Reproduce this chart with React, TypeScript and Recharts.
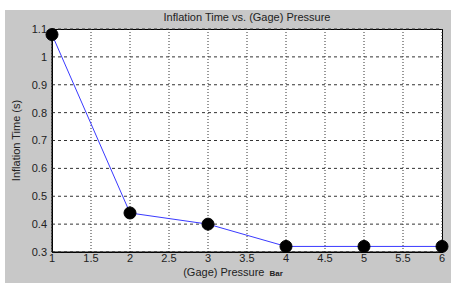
import { CartesianGrid, Line, LineChart, XAxis, YAxis } from "recharts";

const pressure = [1, 2, 3, 4, 5, 6];
const inflationTime = [1.08, 0.44, 0.4, 0.32, 0.32, 0.32];
const xTicks = [1, 1.5, 2, 2.5, 3, 3.5, 4, 4.5, 5, 5.5, 6];
const yTicks = [0.3, 0.4, 0.5, 0.6, 0.7, 0.8, 0.9, 1, 1.1];

const data = pressure.map((p, i) => ({ p, t: inflationTime[i] }));

const font = "'Liberation Sans', Arial, sans-serif";

function XLabel({ viewBox }: any) {
  const cx = viewBox.x + viewBox.width / 2 - 14;
  return (
    <text x={cx} y={viewBox.y + 24} textAnchor="middle" fontFamily={font} fontSize={11} fill="#222">
      (Gage) Pressure
      <tspan dx={5} fontSize={8} fontWeight="bold">
        Bar
      </tspan>
    </text>
  );
}

export default function App() {
  return (
    <div style={{ position: "absolute", left: 0, top: 0, width: 451, height: 283, background: "#fff" }}>
      <div style={{ position: "absolute", left: 5, top: 10, width: 446, height: 273, background: "#c8c8c8" }} />
      <div
        style={{
          position: "absolute",
          left: 52,
          width: 390,
          top: 11,
          textAlign: "center",
          fontFamily: font,
          fontSize: 11,
          color: "#222"
        }}
      >
        Inflation Time vs. (Gage) Pressure
      </div>
      {/* plot box with frame, under the chart svg */}
      <div
        style={{
          position: "absolute",
          left: 52,
          top: 29,
          width: 391,
          height: 224,
          background: "#fff",
          border: "1px solid #000",
          boxSizing: "border-box"
        }}
      />
      <div style={{ position: "absolute", left: 0, top: 0 }}>
        <LineChart width={451} height={283} data={data} margin={{ top: 29, right: 9, bottom: 0, left: 0 }}>
          <CartesianGrid horizontal={false} stroke="#333" strokeDasharray="1 2" />
          <CartesianGrid vertical={false} stroke="#333" strokeDasharray="3 3" />
          <XAxis
            dataKey="p"
            type="number"
            domain={[1, 6]}
            ticks={xTicks}
            height={31}
            tickLine={false}
            tickSize={0}
            axisLine={{ stroke: "#000" }}
            tick={{ fontFamily: font, fontSize: 11, fill: "#222" }}
            tickMargin={2}
            interval={0}
            label={<XLabel />}
          />
          <YAxis
            domain={[0.3, 1.1]}
            ticks={yTicks}
            width={52}
            tickLine={false}
            tickSize={0}
            axisLine={{ stroke: "#000" }}
            tick={{ fontFamily: font, fontSize: 11, fill: "#222" }}
            tickMargin={5}
            interval={0}
            label={{
              value: "Inflation Time (s)",
              angle: -90,
              position: "insideLeft",
              offset: 16,
              style: { fontFamily: font, fontSize: 11, fill: "#222", textAnchor: "middle" }
            }}
          />
          <Line
            dataKey="t"
            stroke="#3a3aff"
            strokeWidth={1}
            isAnimationActive={false}
            dot={{ r: 6, fill: "#000", stroke: "#000", strokeWidth: 1 }}
          />
        </LineChart>
      </div>
    </div>
  );
}
